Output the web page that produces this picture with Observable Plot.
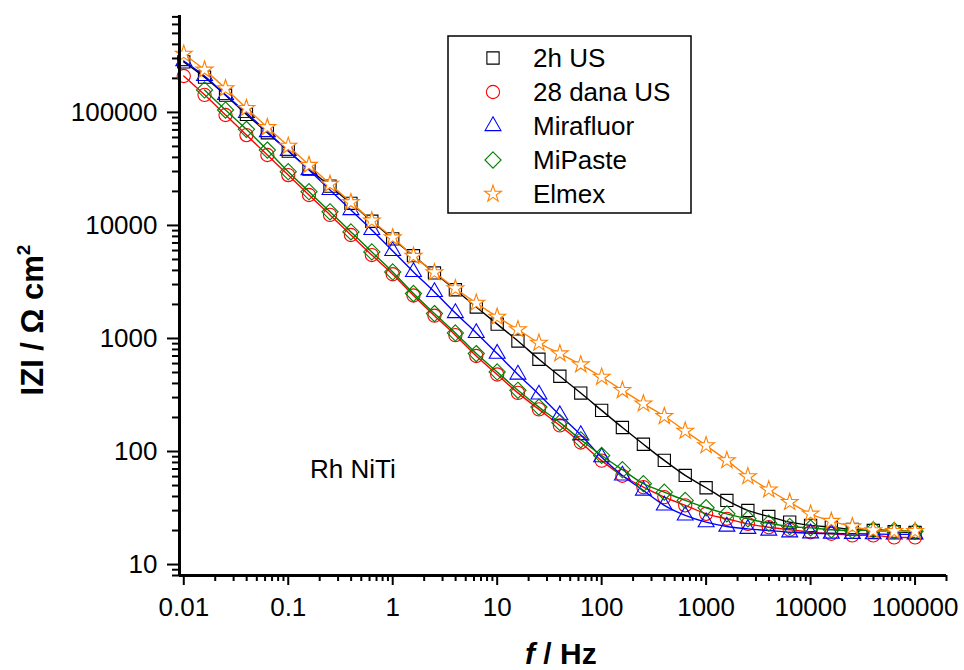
<!DOCTYPE html>
<html><head><meta charset="utf-8">
<script src="https://cdn.jsdelivr.net/npm/d3@7"></script>
<script src="https://cdn.jsdelivr.net/npm/@observablehq/plot@0.6"></script>
<style>body{margin:0;background:#fff}#chart{width:964px;height:670px}</style>
</head><body><div id="chart"></div>
<script>
// Frequencies (Hz), 5 points per decade
const freq = [0.01, 0.0158, 0.0251, 0.0398, 0.0631, 0.1, 0.158, 0.251, 0.398, 0.631,
  1, 1.58, 2.51, 3.98, 6.31, 10, 15.8, 25.1, 39.8, 63.1,
  100, 158, 251, 398, 631, 1000, 1580, 2510, 3980, 6310,
  10000, 15800, 25100, 39800, 63100, 100000];

// |Z| values (Ohm cm^2)
const us2h = [280000, 205000, 142000, 96000, 66000, 45500, 31500, 22300, 15700, 10900,
  7600, 5400, 3800, 2700, 1900, 1340, 950, 655, 463, 329,
  231, 163, 116, 83.4, 61.4, 47.8, 36.9, 30.1, 26.6, 23.7,
  22.2, 21.4, 20.5, 20.0, 19.5, 19.2];
const dana28 = [210000, 143000, 94900, 63000, 42000, 27900, 18600, 12400, 8230, 5470,
  3700, 2400, 1590, 1070, 700, 480, 330, 236, 170, 120,
  83, 61, 48.4, 39.5, 33.4, 28.1, 25.4, 22.9, 21.4, 20.3,
  19.3, 18.7, 18.1, 18.1, 17.4, 17.4];
const mirafluor = [285000, 210000, 143000, 99000, 67000, 45800, 30900, 20600, 13700, 9120,
  5950, 3880, 2580, 1680, 1120, 735, 480, 320, 210, 140,
  89, 61.4, 45.2, 33.4, 27.2, 23.7, 21.7, 20.7, 20.0, 19.3,
  18.9, 18.8, 18.7, 18.6, 18.5, 18.5];
const mipaste = [null, 158000, 105000, 70800, 46400, 29900, 19900, 13200, 8770, 5830,
  3880, 2500, 1660, 1120, 735, 506, 348, 247, 180, 127,
  92.3, 69, 51.9, 43.7, 36.9, 31.8, 28.1, 25.4, 23.2, 21.7,
  21.1, 20.3, 20.0, 20.3, 20.0, 19.7];
const elmex = [329000, 238000, 163000, 109000, 73800, 50400, 34200, 23200, 16000, 11000,
  7800, 5350, 3840, 2770, 2060, 1550, 1200, 912, 735, 587,
  456, 348, 265, 205, 152, 113, 83.4, 60.1, 45.9, 35.6,
  28.1, 24.2, 21.7, 20.0, 19.7, 19.7];

const seriesNames = ["2h US", "28 dana US", "Mirafluor", "MiPaste", "Elmex"];
const seriesValues = [us2h, dana28, mirafluor, mipaste, elmex];
const seriesColors = ["#000000", "#ff0000", "#0000ff", "#008000", "#ff8000"];
const seriesSymbols = ["square", "circle", "triangle", "diamond2", "star"];
const seriesRadius = [6.9, 6.6, 5.9, 7.3, 5.3];
const seriesFill = ["none", "none", "none", "none", "white"];

// Axis ticks
const majorX = [0.01, 0.1, 1, 10, 100, 1000, 10000, 100000];
const majorXLabels = ["0.01", "0.1", "1", "10", "100", "1000", "10000", "100000"];
const minorX = [0.02,0.03,0.04,0.05,0.06,0.07,0.08,0.09,
  0.2,0.3,0.4,0.5,0.6,0.7,0.8,0.9, 2,3,4,5,6,7,8,9,
  20,30,40,50,60,70,80,90, 200,300,400,500,600,700,800,900,
  2000,3000,4000,5000,6000,7000,8000,9000, 20000,30000,40000,50000,60000,70000,80000,90000, 200000];
const majorY = [10, 100, 1000, 10000, 100000];
const majorYLabels = ["10", "100", "1000", "10000", "100000"];
const minorY = [8, 9, 20,30,40,50,60,70,80,90, 200,300,400,500,600,700,800,900,
  2000,3000,4000,5000,6000,7000,8000,9000, 20000,30000,40000,50000,60000,70000,80000,90000,
  200000,300000,400000,500000,600000,700000];

const xDomain = [0.0091, 200000];
const yDomain = [8, 720000];

const series = seriesNames.map((name, k) => ({
  name, values: seriesValues[k], color: seriesColors[k], symbol: seriesSymbols[k],
  r: seriesRadius[k], fill: seriesFill[k]
}));

const table = [];
series.forEach(s => s.values.forEach((v, i) => {
  if (v != null) table.push({f: freq[i], z: v, series: s.name});
}));

const FONT = "'Liberation Sans', Arial, Helvetica, sans-serif";

const marks = [
  Plot.axisX(minorX, {anchor: "bottom", tickSize: 6, strokeWidth: 2, tickFormat: () => "", label: null}),
  Plot.axisX(majorX, {anchor: "bottom", tickSize: 10, tickPadding: 12, strokeWidth: 2, fontSize: 26,
    tickFormat: d => majorXLabels[majorX.indexOf(d)], label: null}),
  Plot.axisY(minorY, {anchor: "left", tickSize: 7, strokeWidth: 2, tickFormat: () => "", label: null}),
  Plot.axisY(majorY, {anchor: "left", tickSize: 12, tickPadding: 10, strokeWidth: 2, fontSize: 26,
    tickFormat: d => majorYLabels[majorY.indexOf(d)], label: null}),
];
series.forEach(s => {
  const rows = table.filter(d => d.series === s.name);
  marks.push(Plot.line(rows, {x: "f", y: "z", stroke: s.color, strokeWidth: 1.4, curve: "catmull-rom"}));
  marks.push(Plot.dot(rows, {x: "f", y: "z", symbol: s.symbol, r: s.r, stroke: s.color, fill: s.fill, strokeWidth: 1.1}));
});
marks.push(Plot.ruleX([xDomain[0]], {strokeWidth: 3}));
marks.push(Plot.ruleY([yDomain[0]], {strokeWidth: 3}));

const svg = Plot.plot({
  width: 964, height: 670,
  marginTop: 15, marginBottom: 95, marginLeft: 179, marginRight: 18,
  x: {type: "log", domain: xDomain, label: null},
  y: {type: "log", domain: yDomain, label: null},
  style: {fontFamily: FONT, fontSize: "26px", color: "black", background: "white", overflow: "visible"},
  marks
});
document.getElementById("chart").appendChild(svg);

const root = d3.select(svg);

// Axis titles
const xt = root.append("text").attr("x", 525).attr("y", 664).attr("text-anchor", "start")
  .attr("font-family", FONT).attr("font-size", 30).attr("font-weight", "bold").attr("fill", "black");
xt.append("tspan").attr("font-style", "italic").text("f");
xt.append("tspan").text(" / Hz");

const yt = root.append("text").attr("transform", "translate(43,320) rotate(-90)")
  .attr("text-anchor", "middle")
  .attr("font-family", FONT).attr("font-size", 31).attr("font-weight", "bold").attr("fill", "black");
yt.append("tspan").text("IZI / Ω cm");
yt.append("tspan").attr("font-size", 19).attr("dy", -13).text("2");

// Annotation
root.append("text").attr("x", 310).attr("y", 478).attr("text-anchor", "start")
  .attr("font-family", FONT).attr("font-size", 26).attr("fill", "black").text("Rh NiTi");

// Legend
const symMap = {square: d3.symbolSquare, circle: d3.symbolCircle, triangle: d3.symbolTriangle,
  diamond2: d3.symbolDiamond2, star: d3.symbolStar};
const lg = root.append("g");
lg.append("rect").attr("x", 448).attr("y", 36).attr("width", 243).attr("height", 177)
  .attr("fill", "white").attr("stroke", "black").attr("stroke-width", 1.5);
series.forEach((s, k) => {
  const cy = 58 + k * 34;
  lg.append("path")
    .attr("d", d3.symbol(symMap[s.symbol], Math.PI * s.r * s.r)())
    .attr("transform", `translate(493,${cy})`)
    .attr("fill", s.fill).attr("stroke", s.color).attr("stroke-width", 1.1);
  lg.append("text").attr("x", 533).attr("y", cy).attr("dy", "0.35em").attr("text-anchor", "start")
    .attr("font-family", FONT).attr("font-size", 26).attr("fill", "black").text(s.name);
});
</script>
</body></html>
